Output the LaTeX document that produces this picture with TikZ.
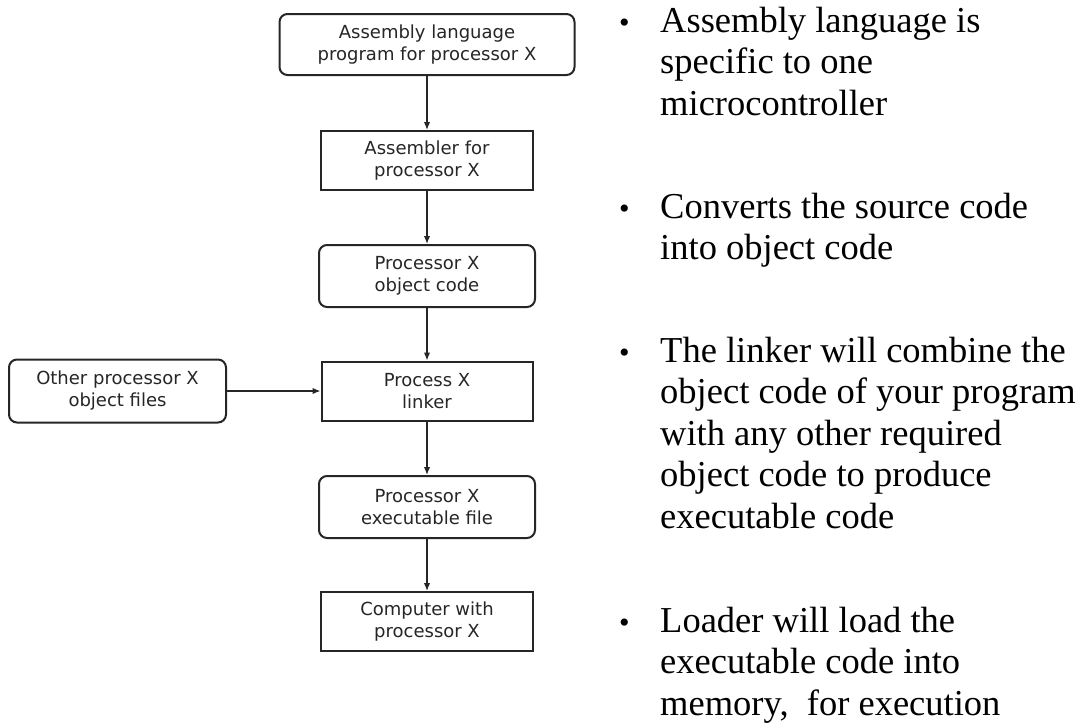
\documentclass[tikz,border=0pt]{standalone}
\usepackage{fontspec}
\setmainfont{Liberation Serif}
\newfontfamily\boxfont{DejaVu Sans}
\usetikzlibrary{arrows.meta}
\definecolor{ink}{HTML}{262626}
\tikzset{
  flowbox/.style={draw=ink, line width=2pt, fill=white, inner sep=0pt,
    align=center, text=ink, font=\boxfont\fontsize{18}{22}\selectfont},
  roundbox/.style={flowbox, rounded corners=8pt},
  squarebox/.style={flowbox},
  flowarrow/.style={draw=ink, line width=1.4pt, -{Latex[length=8pt,width=6.5pt]}},
  bullettext/.style={anchor=base west, inner sep=0pt, text=black,
    font=\fontsize{36.5}{41.5}\selectfont},
  bulletmark/.style={anchor=base west, inner sep=0pt, text=black,
    font=\fontsize{30}{36}\selectfont}
}
\newcommand{\bulletpara}[1]{\parbox[t]{430pt}{\raggedright #1}}
\begin{document}
\begin{tikzpicture}[x=1pt,y=-1pt]
\useasboundingbox[fill=white] (0,0) rectangle (1087,723);
% flow chart
\node[roundbox, minimum width=295pt, minimum height=61pt] (asm) at (427,44.5) {Assembly language\\program for processor X};
\node[squarebox, minimum width=212pt, minimum height=59pt] (assembler) at (427,160.5) {Assembler for\\processor X};
\node[roundbox, minimum width=216pt, minimum height=62pt] (obj) at (427,276) {Processor X\\object code};
\node[squarebox, minimum width=211pt, minimum height=59pt] (linker) at (427,391) {Process X\\linker};
\node[roundbox, minimum width=216pt, minimum height=62pt] (exe) at (427,507) {Processor X\\executable file};
\node[squarebox, minimum width=212pt, minimum height=59pt] (comp) at (427,621.5) {Computer with\\processor X};
\node[roundbox, minimum width=217pt, minimum height=63pt] (other) at (117.5,391) {Other processor X\\object files};
\draw[flowarrow] (asm.south) -- (assembler.north);
\draw[flowarrow] (assembler.south) -- (obj.north);
\draw[flowarrow] (obj.south) -- (linker.north);
\draw[flowarrow] (linker.south) -- (exe.north);
\draw[flowarrow] (exe.south) -- (comp.north);
\draw[flowarrow] (other.east) -- (linker.west);
% bullet points
\node[bulletmark] (b1) at (619,32) {•};
\node[bullettext] (t1) at (660,32) {\bulletpara{Assembly language is\\specific to one\\microcontroller}};
\node[bulletmark] (b2) at (619,218) {•};
\node[bullettext] (t2) at (660,218) {\bulletpara{Converts the source code\\into object code}};
\node[bulletmark] (b3) at (619,362) {•};
\node[bullettext] (t3) at (660,362) {\bulletpara{The linker will combine the\\object code of your program\\with any other required\\object code to produce\\executable code}};
\node[bulletmark] (b4) at (619,632) {•};
\node[bullettext] (t4) at (660,632) {\bulletpara{Loader will load the\\executable code into\\memory,\ \ for execution}};
\end{tikzpicture}
\end{document}
